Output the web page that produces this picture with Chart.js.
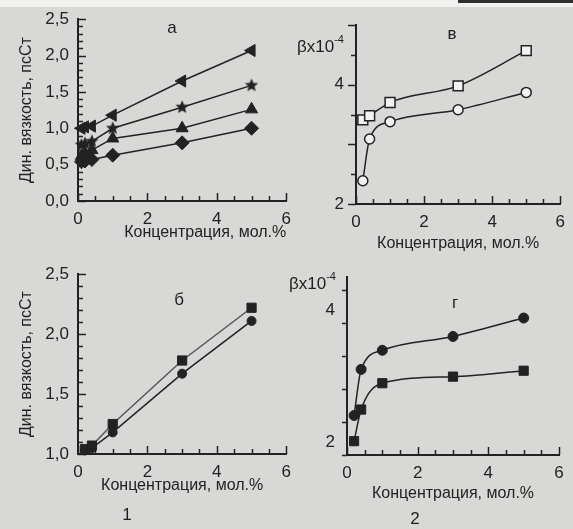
<!DOCTYPE html>
<html>
<head>
<meta charset="utf-8">
<script src="https://cdn.jsdelivr.net/npm/chart.js@4.4.1/dist/chart.umd.min.js"></script>
<style>
  body { margin: 0; background: #d8d8d6; }
  #wrap { position: relative; width: 573px; height: 529px; overflow: hidden; font-family: "Liberation Sans", Arial, sans-serif; color: #1e1e1e; }
  canvas { position: absolute; }
  .lbl { position: absolute; font-size: 17px; line-height: 1; transform: translate(-50%, -50%); white-space: nowrap; }
  .beta { position: absolute; font-size: 17px; line-height: 1; white-space: nowrap; }
  .beta sup { font-size: 11px; position: relative; top: -2px; }
</style>
</head>
<body>
<div id="wrap">
  <div style="position:absolute;left:0;top:0;width:573px;height:7px;background:#f1f1f0"></div>
  <div style="position:absolute;left:458px;top:0;width:115px;height:3px;background:#2e2e2e"></div>

  <canvas id="chartA" width="299" height="255" style="left:0;top:0"></canvas>
  <canvas id="chartV" width="283" height="255" style="left:290px;top:0"></canvas>
  <canvas id="chartB" width="299" height="274" style="left:0;top:255px"></canvas>
  <canvas id="chartG" width="283" height="274" style="left:290px;top:255px"></canvas>

  <span class="lbl" style="left:172px;top:27px">а</span>
  <span class="lbl" style="left:452px;top:33px">в</span>
  <span class="lbl" style="left:179px;top:299px">б</span>
  <span class="lbl" style="left:455px;top:302px">г</span>
  <span class="lbl" style="left:127px;top:514px">1</span>
  <span class="lbl" style="left:415px;top:518px">2</span>
  <span class="beta" style="left:297px;top:36px">βx10<sup>-4</sup></span>
  <span class="beta" style="left:289px;top:273px">βx10<sup>-4</sup></span>
</div>

<script>
// концентрация, мол.%
const concA = [0.1, 0.2, 0.4, 1, 3, 5];
const concB = [0.2, 0.4, 1, 3, 5];

// а: динамическая вязкость
const aTriLeft = [1.00, 1.02, 1.03, 1.18, 1.65, 2.07];
const aStar    = [0.77, 0.79, 0.82, 1.00, 1.29, 1.59];
const aTriUp   = [0.62, 0.66, 0.70, 0.86, 1.00, 1.26];
const aDiamond = [0.54, 0.55, 0.57, 0.63, 0.80, 1.00];

// б: динамическая вязкость
const bSquare = [1.04, 1.07, 1.25, 1.78, 2.22];
const bCircle = [1.03, 1.05, 1.18, 1.67, 2.11];

// в: beta x 10^-4
const vSquare = [3.41, 3.48, 3.70, 3.98, 4.57];
const vCircle = [2.39, 3.09, 3.38, 3.58, 3.87];

// г: beta x 10^-4
const gCircle = [2.40, 3.10, 3.39, 3.60, 3.88];
const gSquare = [2.01, 2.49, 2.89, 2.99, 3.08];

// tick labels
const xLabels = [0, 2, 4, 6];
const viscLabelsA = [0, 0.5, 1, 1.5, 2, 2.5];
const viscLabelsB = [1, 1.5, 2, 2.5];
const betaLabels = [2, 4];

const ink = '#222';
const fontName = "'Liberation Sans', Arial, sans-serif";
const xTitle = 'Концентрация, мол.%';
const yTitle = 'Дин. вязкость, псСт';

function pts(xs, ys) {
    return xs.map((x, i) => ({x: x, y: ys[i]}));
}

function starImage(r) {
    const c = document.createElement('canvas');
    c.width = c.height = 2 * r + 2;
    const g = c.getContext('2d');
    g.beginPath();
    for (let i = 0; i < 10; i++) {
        const ang = -Math.PI / 2 + i * Math.PI / 5;
        const rr = i % 2 ? r * 0.45 : r;
        g.lineTo(r + 1 + rr * Math.cos(ang), r + 1 + rr * Math.sin(ang));
    }
    g.closePath();
    g.fillStyle = ink;
    g.fill();
    return c;
}

// small tick marks, placed with the chart's own scales
function tickPlugin(t) {
    return {
        id: 'axisTicks',
        afterDraw(chart) {
            const {ctx, chartArea: area} = chart;
            const xs = chart.scales.x, ys = chart.scales.y;
            ctx.save();
            ctx.strokeStyle = ink;
            ctx.lineWidth = 1.5;
            const run = (scale, step, majorStep, dir, horizontal) => {
                const n = Math.round((scale.max - scale.min) / step);
                for (let i = 0; i <= n; i++) {
                    const v = scale.min + i * step;
                    const major = Math.abs(v / majorStep - Math.round(v / majorStep)) < 1e-6;
                    const len = major ? 8 : 5;
                    const p = Math.round(scale.getPixelForValue(v)) + 0.5;
                    ctx.beginPath();
                    if (horizontal) {
                        ctx.moveTo(p, area.bottom);
                        ctx.lineTo(p, area.bottom - len * dir);
                    } else {
                        ctx.moveTo(area.left, p);
                        ctx.lineTo(area.left + len * dir, p);
                    }
                    ctx.stroke();
                }
            };
            run(xs, t.xStep, t.xMajor, 1, true);
            run(ys, t.yStep, t.yMajor, t.yDir, false);
            ctx.restore();
        }
    };
}

function makePanel(id, datasets, cfg) {
    const ctx = document.getElementById(id).getContext('2d');
    return new Chart(ctx, {
        type: 'line',
        data: {datasets: datasets},
        options: {
            responsive: false,
            animation: false,
            devicePixelRatio: 1,
            layout: {padding: {top: cfg.padTop, right: cfg.padRight, left: 0, bottom: 0}},
            plugins: {
                legend: {display: false},
                tooltip: {enabled: false}
            },
            scales: {
                x: {
                    type: 'linear',
                    min: 0,
                    max: 6,
                    afterBuildTicks: s => { s.ticks = xLabels.map(v => ({value: v})); },
                    afterFit: s => { s.height = cfg.xH; },
                    grid: {display: false, drawTicks: false},
                    border: {display: true, color: ink, width: 2},
                    ticks: {color: ink, padding: 8, font: {family: fontName, size: 17}},
                    title: {
                        display: true, text: xTitle, color: ink, align: cfg.xAlign || 'center',
                        font: {family: fontName, size: 16},
                        padding: {top: 0, bottom: cfg.xTitlePad}
                    }
                },
                y: {
                    type: 'linear',
                    min: cfg.yMin,
                    max: cfg.yMax,
                    afterBuildTicks: s => { s.ticks = cfg.yLabels.map(v => ({value: v})); },
                    afterFit: s => { s.width = cfg.yW; },
                    grid: {display: false, drawTicks: false},
                    border: {display: true, color: ink, width: 2},
                    ticks: {
                        color: ink, padding: cfg.yPad, font: {family: fontName, size: 17},
                        callback: v => cfg.comma ? v.toFixed(1).replace('.', ',') : String(v)
                    },
                    title: {
                        display: !!cfg.yTitle, text: cfg.yTitle || '', color: ink,
                        font: {family: fontName, size: 16},
                        padding: {top: 17, bottom: 0}
                    }
                }
            }
        },
        plugins: [tickPlugin(cfg.ticks)]
    });
}

function series(xs, ys, style, extra) {
    return Object.assign({
        data: pts(xs, ys),
        borderColor: ink,
        borderWidth: 1.5,
        pointStyle: style,
        pointRadius: 6,
        pointBackgroundColor: ink,
        pointBorderColor: ink,
        pointBorderWidth: 1,
        tension: 0,
        clip: false
    }, extra || {});
}

makePanel('chartA', [
    series(concA, aTriLeft, 'triangle', {pointRotation: -90, pointRadius: 7}),
    series(concA, aStar, starImage(7)),
    series(concA, aTriUp, 'triangle', {pointRadius: 7}),
    series(concA, aDiamond, 'rectRot', {pointRadius: 7})
], {
    padTop: 19, padRight: 12, xH: 54, yW: 78, yPad: 9,
    yMin: 0, yMax: 2.5, yLabels: viscLabelsA, comma: true, yTitle: yTitle,
    xTitlePad: 13, xAlign: 'end',
    ticks: {xStep: 0.5, xMajor: 2, yStep: 0.1, yMajor: 0.5, yDir: 1}
});

makePanel('chartB', [
    series(concB, bSquare, 'rect', {borderColor: '#555', pointRadius: 6.5}),
    series(concB, bCircle, 'circle', {pointRadius: 4.5})
], {
    padTop: 16, padRight: 12, xH: 75, yW: 78, yPad: 9,
    yMin: 1, yMax: 2.5, yLabels: viscLabelsB, comma: true, yTitle: yTitle,
    xTitlePad: 34,
    ticks: {xStep: 0.5, xMajor: 2, yStep: 0.1, yMajor: 0.5, yDir: 1}
});

makePanel('chartV', [
    series(concB, vSquare, 'rect', {pointRadius: 7, pointBackgroundColor: '#f2f2f0', cubicInterpolationMode: 'monotone', pointBorderWidth: 1.5}),
    series(concB, vCircle, 'circle', {pointRadius: 5, pointBackgroundColor: '#f2f2f0', cubicInterpolationMode: 'monotone', pointBorderWidth: 1.5})
], {
    padTop: 25, padRight: 6, xH: 51, yW: 66, yPad: 12,
    yMin: 2, yMax: 5, yLabels: betaLabels, comma: false,
    xTitlePad: 2,
    ticks: {xStep: 0.5, xMajor: 2, yStep: 0.5, yMajor: 1, yDir: -1}
});

makePanel('chartG', [
    series(concB, gCircle, 'circle', {pointRadius: 5, cubicInterpolationMode: 'monotone'}),
    series(concB, gSquare, 'rect', {pointRadius: 6.5, cubicInterpolationMode: 'monotone'})
], {
    padTop: 21, padRight: 14, xH: 74, yW: 57, yPad: 12,
    yMin: 1.8, yMax: 4.5, yLabels: betaLabels, comma: false,
    xTitlePad: 26,
    ticks: {xStep: 0.5, xMajor: 2, yStep: 0.5, yMajor: 1, yDir: -1}
});
</script>
</body>
</html>
